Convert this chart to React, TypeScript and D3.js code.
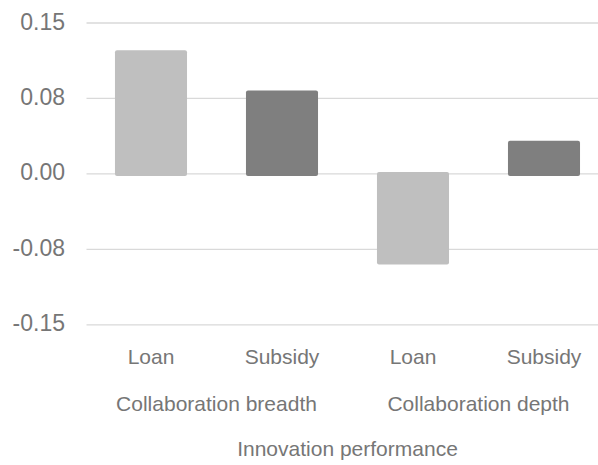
import React from "react";
import * as d3 from "d3";

// Bar values, in category order
const categories = ["Loan", "Subsidy", "Loan", "Subsidy"];
const values = [0.123, 0.083, -0.09, 0.033];
const groups = ["Collaboration breadth", "Collaboration depth"];
const axisTitle = "Innovation performance";
const yTicks = [0.15, 0.075, 0, -0.075, -0.15];
const yTickLabels = ["0.15", "0.08", "0.00", "-0.08", "-0.15"];

const W = 598;
const H = 465;
const plotLeft = 85.5;
const plotRight = 609.5;
const yTop = 23;
const yBottom = 324.8;

const TEXT = "#767676";
const GRID = "#d9d9d9";
const colorFor: Record<string, string> = { Loan: "#bfbfbf", Subsidy: "#7f7f7f" };
const FONT = "'Liberation Sans', Arial, Helvetica, sans-serif";

export default function App() {
  const keys = categories.map((_, i) => String(i));
  const x = d3
    .scaleBand<string>()
    .domain(keys)
    .range([plotLeft, plotRight])
    .paddingInner(0.45)
    .paddingOuter(0.225);
  const y = d3.scaleLinear().domain([-0.15, 0.15]).range([yBottom, yTop]);
  const y0 = y(0);
  const overhang = 2;

  const groupCenter = (g: number) => {
    const a = x(String(g * 2))!;
    const b = x(String(g * 2 + 1))! + x.bandwidth();
    return (a + b) / 2;
  };

  return (
    <svg
      width={W}
      height={H}
      style={{ position: "absolute", left: 0, top: 0, background: "#fff" }}
      fontFamily={FONT}
    >
      {yTicks.map((t, i) => (
        <g key={t}>
          <line x1={plotLeft + 1} x2={W} y1={y(t)} y2={y(t)} stroke={GRID} strokeWidth={1.3} />
          <text
            x={65}
            y={y(t) - 1.5}
            textAnchor="end"
            dominantBaseline="central"
            fontSize={23}
            fill={TEXT}
          >
            {yTickLabels[i]}
          </text>
        </g>
      ))}

      {values.map((v, i) => {
        const top = v >= 0 ? y(v) : y0 - overhang;
        const bottom = v >= 0 ? y0 + overhang : y(v);
        return (
          <rect
            key={i}
            x={x(String(i))}
            y={top}
            width={x.bandwidth()}
            height={bottom - top}
            rx={2}
            fill={colorFor[categories[i]]}
          />
        );
      })}

      {categories.map((c, i) => (
        <text
          key={i}
          x={x(String(i))! + x.bandwidth() / 2}
          y={363.5}
          textAnchor="middle"
          fontSize={21}
          fill={TEXT}
        >
          {c}
        </text>
      ))}

      {groups.map((g, gi) => (
        <text key={g} x={groupCenter(gi)} y={411} textAnchor="middle" fontSize={21} fill={TEXT}>
          {g}
        </text>
      ))}

      <text x={(plotLeft + plotRight) / 2} y={455.5} textAnchor="middle" fontSize={21} fill={TEXT}>
        {axisTitle}
      </text>
    </svg>
  );
}
